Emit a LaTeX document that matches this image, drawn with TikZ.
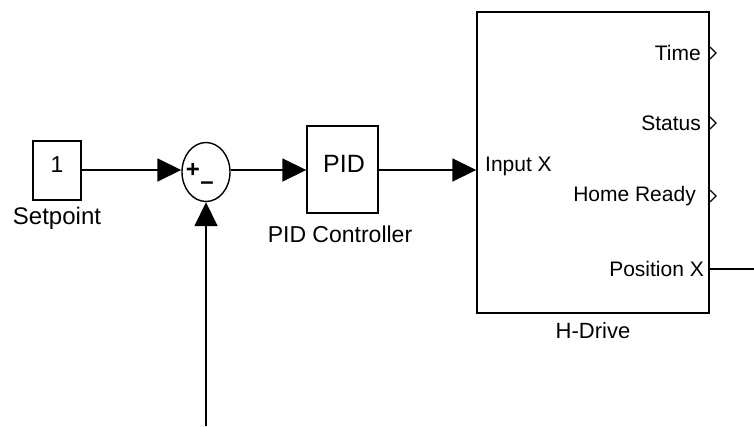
\documentclass[tikz,border=0pt]{standalone}
\usepackage{fontspec}
\setmainfont{Liberation Sans}
\usetikzlibrary{arrows.meta,shapes.geometric}
\begin{document}
\begin{tikzpicture}[x=1pt,y=-1pt,
  blk/.style={draw,line width=1.4pt,inner sep=0pt},
  lbl/.style={font=\fontsize{21}{24}\selectfont,inner sep=0pt},
  big/.style={font=\fontsize{23}{26}\selectfont,inner sep=0pt},
  sgn/.style={font=\fontsize{24}{26}\selectfont\bfseries,inner sep=0pt,anchor=base,text depth=0pt},
  wire/.style={line width=1.7pt},
  arr/.style={wire,-{Triangle[length=24pt,width=23pt]}},
  oport/.style={line width=1.3pt}]
\useasboundingbox (0,0) rectangle (754,426);
% blocks
\node[blk,minimum width=48pt,minimum height=59pt] (sp) at (57,170.5) {};
\node[font=\fontsize{23}{26}\selectfont,inner sep=0pt] (one) at (57,164.5) {1};
\node[big,font=\fontsize{24}{27}\selectfont] (spl) at (57,218) {Setpoint};
\node[blk,ellipse,minimum width=48pt,minimum height=59pt] (sum) at (206,172) {};
\node[sgn,text height=14pt] (plus) at (193,177.5) {+};
\node[sgn,text height=8pt] (minus) at (207,189.5) {–};
\node[blk,minimum width=71pt,minimum height=87pt] (pid) at (342.5,169.5) {};
\node[font=\fontsize{25}{28}\selectfont,inner sep=0pt] (pidt) at (344,164) {PID};
\node[big] (pidl) at (340,234) {PID Controller};
\node[blk,minimum width=232pt,minimum height=301pt] (hd) at (593,162.5) {};
\node[lbl,font=\fontsize{22}{25}\selectfont] (hdl) at (593,331) {H-Drive};
\node[lbl,anchor=west] (inx) at (485,166) {Input X};
\node[lbl,anchor=east] (ptime) at (701,53) {Time};
\node[lbl,anchor=east] (pstat) at (701,123) {Status};
\node[lbl,anchor=east] (phome) at (696,196) {Home Ready};
\node[lbl,anchor=east] (ppos) at (704,269) {Position X};
% output port marks
\foreach \yy in {53,123,196}{
  \draw[oport] (710,\yy-6) -- (716,\yy) -- (710,\yy+6);
}
% connectors
\coordinate (fb) at (206,426);
\coordinate (out) at (754,269);
\draw[arr] (sp.east |- 0,170) -- (sum.west |- 0,170);
\draw[arr] (sum.east |- 0,170) -- (pid.west |- 0,170);
\draw[arr] (pid.east |- 0,170) -- (hd.west |- 0,170);
\draw[arr] (fb) -- (sum.south);
\draw[wire] (hd.east |- out) -- (out);
\end{tikzpicture}
\end{document}
